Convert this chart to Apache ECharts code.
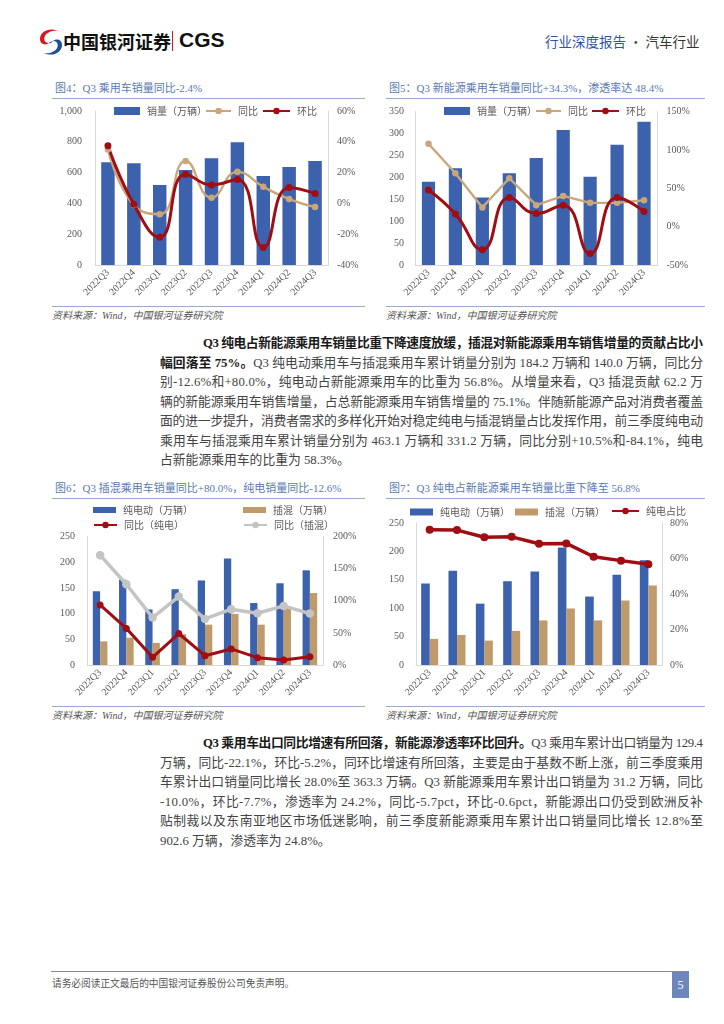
<!DOCTYPE html>
<html><head><meta charset="utf-8">
<script src="https://cdn.jsdelivr.net/npm/echarts/dist/echarts.min.js"></script>
<style>
html,body{margin:0;padding:0;background:#fff;}
body{width:724px;height:1024px;position:relative;overflow:hidden;font-family:"Liberation Serif","Noto Sans CJK SC",serif;}
.abs{position:absolute;}
.ttl{position:absolute;font-size:11px;color:#5b79b3;white-space:nowrap;line-height:14px;}
.rule{position:absolute;height:0;border-top:1.2px solid #9aaace;}
.src{position:absolute;font-size:10px;color:#555;font-style:italic;white-space:nowrap;line-height:12px;}
.chart{position:absolute;}
.ln{position:absolute;font-size:12.8px;line-height:19.5px;color:#444;white-space:nowrap;}
.ln b{color:#1a1a1a;}
</style></head>
<body>
<script>
// ---------- data ----------
const quarters = ['2022Q3','2022Q4','2023Q1','2023Q2','2023Q3','2023Q4','2024Q1','2024Q2','2024Q3'];
// 图4 乘用车
const pvSales = [667, 660, 519, 617, 693, 797, 578, 636, 675];
const pvYoy   = [35, -1, -7, 27.5, 3.7, 20.5, 10.8, 2.8, -2.4];
const pvQoq   = [37.5, -0.6, -22, 19, 12, 15.6, -28.6, 10.4, 6.5];
// 图5 新能源乘用车
const nevSales = [190, 220.7, 153.7, 209, 244, 308, 201, 274, 326.5];
const nevYoy   = [108, 69.6, 25, 63, 28, 40, 31, 31, 34.3];
const nevQoq   = [47.8, 16.5, -30, 38, 17, 28, -35, 38, 19.6];
// 图6/图7 纯电 & 插混
const bevSales  = [143.5, 166, 108, 147.5, 164.5, 207, 120.5, 159, 184.2];
const phevSales = [46, 53, 43, 60, 78.5, 99.5, 78.5, 113.5, 140.0];
const bevYoy    = [93.5, 57, 12, 49, 14.5, 25, 11.4, 7.8, 13];
const phevYoy   = [171, 125.7, 73.8, 106.5, 71.7, 86.8, 80.5, 92, 80];
const bevShare  = [76.2, 76.0, 72.0, 72.2, 68.3, 68.5, 61.0, 58.8, 56.8];

const fig4Title = '图4：Q3 乘用车销量同比-2.4%';
const fig5Title = '图5：Q3 新能源乘用车销量同比+34.3%，渗透率达 48.4%';
const fig6Title = '图6：Q3 插混乘用车销量同比+80.0%，纯电销量同比-12.6%';
const fig7Title = '图7：Q3 纯电占新能源乘用车销量比重下降至 56.8%';
const sourceText = '资料来源：Wind，中国银河证券研究院';

const para1 = [
 '<b>Q3 纯电占新能源乘用车销量比重下降速度放缓，插混对新能源乘用车销售增量的贡献占比小</b>',
 '<b>幅回落至 75%。</b>Q3 纯电动乘用车与插混乘用车累计销量分别为 184.2 万辆和 140.0 万辆，同比分',
 '别-12.6%和+80.0%，纯电动占新能源乘用车的比重为 56.8%。从增量来看，Q3 插混贡献 62.2 万',
 '辆的新能源乘用车销售增量，占总新能源乘用车销售增量的 75.1%。伴随新能源产品对消费者覆盖',
 '面的进一步提升，消费者需求的多样化开始对稳定纯电与插混销量占比发挥作用，前三季度纯电动',
 '乘用车与插混乘用车累计销量分别为 463.1 万辆和 331.2 万辆，同比分别+10.5%和-84.1%，纯电',
 '占新能源乘用车的比重为 58.3%。'
];
const para2 = [
 '<b>Q3 乘用车出口同比增速有所回落，新能源渗透率环比回升。</b>Q3 乘用车累计出口销量为 129.4',
 '万辆，同比-22.1%，环比-5.2%，同环比增速有所回落，主要是由于基数不断上涨，前三季度乘用',
 '车累计出口销量同比增长 28.0%至 363.3 万辆。Q3 新能源乘用车累计出口销量为 31.2 万辆，同比',
 '-10.0%，环比-7.7%，渗透率为 24.2%，同比-5.7pct，环比-0.6pct，新能源出口仍受到欧洲反补',
 '贴制裁以及东南亚地区市场低迷影响，前三季度新能源乘用车累计出口销量同比增长 12.8%至',
 '902.6 万辆，渗透率为 24.8%。'
];

// ---------- page furniture ----------
function el(tag, cls, style, html){
  const e=document.createElement(tag); if(cls) e.className=cls;
  Object.assign(e.style, style||{}); if(html!=null) e.innerHTML=html;
  document.body.appendChild(e); return e;
}
// header
el('div','abs',{left:'38px',top:'28px',width:'26px',height:'28px'},
 '<svg width="26" height="28" viewBox="0 0 26 28"><path d="M20 3 C12 -1 2 3 2 11 C2 16 7 18 11 15 C7 15 5 12 7 8 C9 4 15 2 20 3 Z" fill="#d7191f"/><path d="M6 25 C14 29 24 25 24 17 C24 12 19 10 15 13 C19 13 21 16 19 20 C17 24 11 26 6 25 Z" fill="#1f4e9c"/><path d="M11 15 C14 13 15 13 15 13 C13 15 12 16 11 15Z" fill="#1f4e9c"/></svg>');
el('div','abs',{left:'63px',top:'29px',fontFamily:'"Noto Sans CJK SC"',fontWeight:'bold',fontSize:'18px',lineHeight:'24px',color:'#111',whiteSpace:'nowrap'},'中国银河证券');
el('div','abs',{left:'172px',top:'31px',width:'0',height:'20px',borderLeft:'1.5px solid #d7191f'});
el('div','abs',{left:'179px',top:'27px',fontFamily:'"Liberation Sans","Roboto",sans-serif',fontWeight:'bold',fontSize:'21px',lineHeight:'26px',color:'#111',whiteSpace:'nowrap'},'CGS');
el('div','abs',{left:'545px',top:'32px',fontFamily:'"Noto Sans CJK SC"',fontSize:'13.5px',lineHeight:'18px',whiteSpace:'nowrap',color:'#2f569c'},
  '行业深度报告<span style="color:#555"> · </span><span style="color:#333">汽车行业</span>');

// chart frames
function frame(x, w, yTop, title){
  el('div','ttl',{left:(x+3)+'px',top:(yTop-7)+'px'},title);
  el('div','rule',{left:x+'px',top:(yTop+10)+'px',width:w+'px'});
  el('div','rule',{left:x+'px',top:(yTop+218)+'px',width:w+'px'});
  el('div','src',{left:x+'px',top:(yTop+222)+'px'},sourceText);
}
frame(52,313,88,fig4Title);
frame(386,319,88,fig5Title);
frame(52,313,488,fig6Title);
frame(386,319,488,fig7Title);

// paragraphs
function para(lines, yCenter){
  lines.forEach((h,i)=>{
    const first = i===0, last = i===lines.length-1;
    const left = first?203:160;
    const e = el('div','ln',{left:left+'px',top:(yCenter-9.75+i*19.5)+'px'},h);
    if(!last){
      const target = 703-left;
      const w = e.getBoundingClientRect().width;
      const n = e.textContent.length;
      e.style.letterSpacing = ((target-w)/(n-1))+'px';
    }
  });
}
para(para1, 344);
para(para2, 744);

// footer
el('div','abs',{left:'51px',top:'971px',width:'638px',height:'0',borderTop:'1.5px solid #8a8a8a'});
el('div','abs',{left:'52px',top:'976px',fontFamily:'"Noto Sans CJK SC"',fontSize:'9.7px',lineHeight:'14px',color:'#555',whiteSpace:'nowrap'},'请务必阅读正文最后的中国银河证券股份公司免责声明。');
el('div','abs',{left:'672px',top:'972px',width:'17px',height:'26px',background:'#6d87bd',color:'#fff',fontSize:'12px',lineHeight:'26px',textAlign:'center'},'5');

// ---------- charts ----------
const BLUE='#3c61ad', TANBAR='#bf9a6a', TANLINE='#c9a77b', RED='#a00d12', GRAY='#c4c4c4';
const AX='#595959', AXL='#d9d9d9';
const FONT='"Liberation Serif","Noto Sans CJK SC",serif';
const legText={fontSize:10,color:AX,fontFamily:'"Noto Sans CJK SC"',padding:[0,0,0,2]};

function mk(left, top, width, height){
  const d=el('div','chart',{left:left+'px',top:top+'px',width:width+'px',height:height+'px'});
  return echarts.init(d,null,{renderer:'canvas'});
}
function xAx(){
  return {type:'category',data:quarters,
    axisLine:{show:true,lineStyle:{color:AXL,width:1}},axisTick:{show:false},
    axisLabel:{rotate:45,interval:0,fontSize:10,color:AX,fontFamily:FONT,margin:6}};
}
function yAx(min,max,interval,fmt,pos,margin){
  return {type:'value',min:min,max:max,interval:interval,position:pos,
    splitLine:{show:false},axisTick:{show:false},
    axisLine:{show:true,lineStyle:{color:AXL,width:1}},
    axisLabel:{fontSize:10,color:AX,fontFamily:FONT,margin:margin,formatter:fmt}};
}
function leg(name, left, top, w, h, icon){
  const d={name:name}; if(icon) d.icon=icon;
  return {data:[d],left:left,top:top,padding:0,itemWidth:w,itemHeight:h,textStyle:legText,selectedMode:false};
}
function bar(name,data,color,width,yi){
  return {name:name,type:'bar',data:data,barWidth:width,barGap:'0%',yAxisIndex:yi||0,itemStyle:{color:color},z:2};
}
function line(name,data,color,lw,sym,smooth){
  return {name:name,type:'line',yAxisIndex:1,data:data,smooth:smooth,symbol:'circle',symbolSize:sym,
    lineStyle:{color:color,width:lw},itemStyle:{color:color},z:5};
}
const pct = v=>v+'%';
const thou = v=>v.toLocaleString('en-US');

// 图4
mk(52,100,313,205).setOption({
  animation:false,
  grid:{left:43,top:11,width:233,height:154},
  legend:[leg('销量（万辆）',62,6,26,8,'rect'),leg('同比',153,6,25,8),leg('环比',210,6,27,8)],
  xAxis:xAx(),
  yAxis:[yAx(0,1000,200,thou,'left',13),yAx(-40,60,20,pct,'right',9)],
  series:[bar('销量（万辆）',pvSales,BLUE,'52%'),
    line('同比',pvYoy,TANLINE,2.4,6.5,true),
    line('环比',pvQoq,RED,3,7,true)]
});
// 图5
mk(386,100,319,205).setOption({
  animation:false,
  grid:{left:27.5,top:11.5,width:244,height:153.5},
  legend:[leg('销量（万辆）',58,6,26,8,'rect'),leg('同比',149,6,25,8),leg('环比',205,6,27,8)],
  xAxis:xAx(),
  yAxis:[yAx(0,350,50,null,'left',11),yAx(-50,150,50,pct,'right',9)],
  series:[bar('销量（万辆）',nevSales,BLUE,'49%'),
    line('同比',nevYoy,TANLINE,2.4,6.5,false),
    line('环比',nevQoq,RED,3,7,true)]
});
// 图6
mk(52,500,313,205).setOption({
  animation:false,
  grid:{left:35,top:36.5,width:236,height:128.5},
  legend:[leg('纯电动（万辆）',41,5,23,6,'rect'),leg('插混（万辆）',191,5,23,6,'rect'),
          leg('同比（纯电）',41,20,23,8),leg('同比（插混）',191,20,23,8)],
  xAxis:xAx(),
  yAxis:[yAx(0,250,50,null,'left',12),yAx(0,200,50,pct,'right',10)],
  series:[bar('纯电动（万辆）',bevSales,BLUE,7.3),bar('插混（万辆）',phevSales,TANBAR,7.3),
    line('同比（纯电）',bevYoy,RED,3,7,false),
    line('同比（插混）',phevYoy,GRAY,3.5,8.5,false)]
});
// 图7
mk(386,500,319,205).setOption({
  animation:false,
  grid:{left:28,top:23,width:248,height:142},
  legend:[leg('纯电动（万辆）',24,7,23,7,'rect'),leg('插混（万辆）',129,7,23,7,'rect'),leg('纯电占比',225,6,27,8)],
  xAxis:xAx(),
  yAxis:[yAx(0,250,50,null,'left',12),yAx(0,80,20,pct,'right',8)],
  series:[bar('纯电动（万辆）',bevSales,BLUE,8.6),bar('插混（万辆）',phevSales,TANBAR,8.4),
    line('纯电占比',bevShare,RED,3.5,8,false)]
});
</script>
</body></html>
